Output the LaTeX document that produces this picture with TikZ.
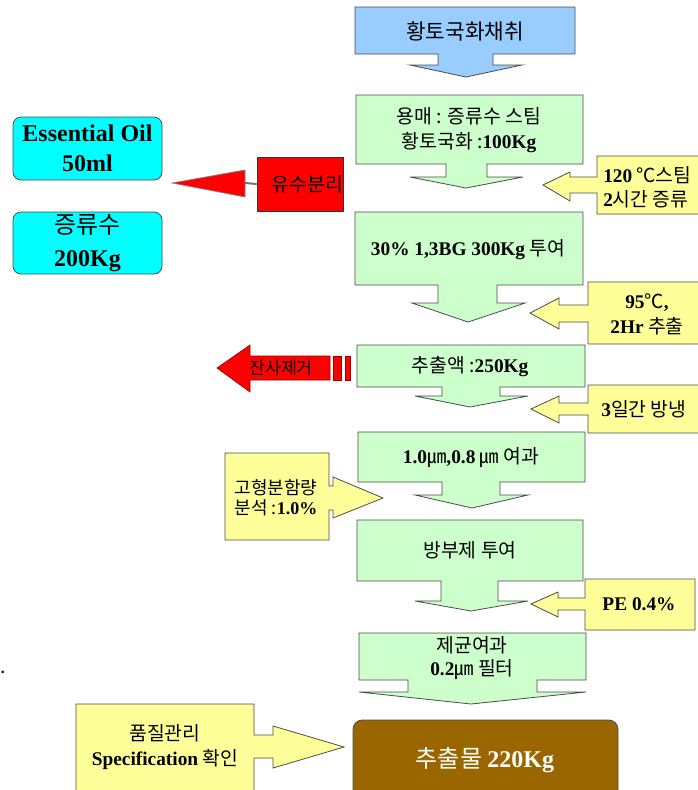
\documentclass[tikz,border=0pt]{standalone}
\usepackage{fontspec}
\setmainfont{Liberation Serif}
\newfontfamily\kr{Noto Sans CJK KR}
\newcommand\num[1]{{\normalfont\bfseries #1}}
\definecolor{boxblue}{RGB}{153,204,255}
\definecolor{boxgreen}{RGB}{204,255,204}
\definecolor{boxyellow}{RGB}{255,255,153}
\definecolor{boxcyan}{RGB}{0,255,255}
\definecolor{boxbrown}{RGB}{153,102,0}
\tikzset{
  flow/.style={draw=black!70, line width=0.6pt},
  bluebox/.style={flow, fill=boxblue},
  greenbox/.style={flow, fill=boxgreen},
  yellowbox/.style={flow, fill=boxyellow},
  redshape/.style={draw=red!60!black, line width=0.5pt, fill=red},
  cyanbox/.style={flow, fill=boxcyan, rounded corners=6pt, inner sep=0pt},
  txt/.style={inner sep=0pt, align=center, text=black, font=\kr\fontsize{14.5}{18.75}\selectfont},
  smalltxt/.style={txt, font=\kr\fontsize{13.5}{15}\selectfont},
}

\begin{document}
\begin{tikzpicture}[x=0.75pt,y=0.75pt,yscale=-1,xscale=1]
\useasboundingbox (0,0) rectangle (698,790);
\clip (0,0) rectangle (698,790);

%Shape: Down Arrow Callout [harvest]
\draw [bluebox] (355,7) -- (575,7) -- (575,54) -- (493,54) -- (493,65) -- (522,65) -- (466,77) -- (410,65) -- (438,65) -- (438,54) -- (355,54) -- cycle ;
%Shape: Down Arrow Callout [steam]
\draw [greenbox] (356,95) -- (583,95) -- (583,164) -- (487,164) -- (487,177) -- (523,177) -- (466,188) -- (410,177) -- (446,177) -- (446,164) -- (356,164) -- cycle ;
%Shape: Down Arrow Callout [bg]
\draw [greenbox] (355,212) -- (583,212) -- (583,285) -- (497,285) -- (497,303) -- (525,303) -- (468,322) -- (412,303) -- (438,303) -- (438,285) -- (355,285) -- cycle ;
%Shape: Down Arrow Callout [extract]
\draw [greenbox] (357,345) -- (585,345) -- (585,387) -- (500,387) -- (500,396) -- (528,396) -- (470,407) -- (415,396) -- (442,396) -- (442,387) -- (357,387) -- cycle ;
%Shape: Down Arrow Callout [filter]
\draw [greenbox] (358,432) -- (585,432) -- (585,482) -- (500,482) -- (500,495) -- (528,495) -- (472,508) -- (415,495) -- (442,495) -- (442,482) -- (358,482) -- cycle ;
%Shape: Down Arrow Callout [preserv]
\draw [greenbox] (357,520) -- (583,520) -- (583,581) -- (498,581) -- (498,601) -- (528,601) -- (471,611) -- (415,601) -- (441,601) -- (441,581) -- (357,581) -- cycle ;
%Shape: Down Arrow Callout [sterile]
\draw [greenbox] (359,633) -- (586,633) -- (586,680) -- (537,680) -- (537,692) -- (586,692) -- (471,704) -- (359,692) -- (408,692) -- (408,680) -- (359,680) -- cycle ;
%Shape: Rounded Rect [product]
\draw [flow, fill=boxbrown, rounded corners=7pt] (353,720) rectangle (618,802) ;

%Shape: Left Arrow Callout [temp1]
\draw [yellowbox] (597,156) -- (712,156) -- (712,214) -- (597,214) -- (597,193) -- (570,193) -- (570,201) -- (543,185) -- (570,172) -- (570,177) -- (597,177) -- cycle ;
%Shape: Left Arrow Callout [temp2]
\draw [yellowbox] (588,282) -- (710,282) -- (710,344) -- (588,344) -- (588,322) -- (559,322) -- (559,329) -- (530,313) -- (559,298) -- (559,305) -- (588,305) -- cycle ;
%Shape: Left Arrow Callout [cool]
\draw [yellowbox] (588,385) -- (710,385) -- (710,433) -- (588,433) -- (588,415) -- (559,415) -- (559,423) -- (531,409) -- (559,396) -- (559,403) -- (588,403) -- cycle ;
%Shape: Left Arrow Callout [pe]
\draw [yellowbox] (585,579) -- (695,579) -- (695,630) -- (585,630) -- (585,610) -- (558,610) -- (558,617) -- (531,604) -- (558,592) -- (558,598) -- (585,598) -- cycle ;
%Shape: Right Arrow Callout [solid]
\draw [yellowbox] (225,453) -- (329,453) -- (329,486) -- (333,486) -- (333,477) -- (383,498) -- (333,518) -- (333,510) -- (329,510) -- (329,540) -- (225,540) -- cycle ;
%Shape: Right Arrow Callout [qc]
\draw [yellowbox] (76,704) -- (254,704) -- (254,735) -- (273,735) -- (273,726) -- (344,747) -- (273,768) -- (273,758) -- (254,758) -- (254,802) -- (76,802) -- cycle ;

%Shape: Striped Left Arrow [residue]
\draw [redshape] (217,368) -- (250,345) -- (250,356) -- (330,356) -- (330,380) -- (250,380) -- (250,392) -- cycle ;
\draw [redshape] (333,356) rectangle (341,380) ;
\draw [redshape] (345,356) rectangle (350,380) ;

%Shape: Rect [separation] and triangle
\draw (300,184) node (sep) [redshape, draw=black!80, minimum width=64.5pt, minimum height=40.5pt] {} ;
\coordinate (tri) at (245,183) ;
\draw [redshape, draw=black!50] (172,183) -- (245,170) -- (245,197) -- cycle ;
\draw [black!55, line width=1.5pt] (sep.west) -- (tri) ;

% Cyan Boxes
\draw (87.5,148.5) node (oil) [cyanbox, minimum width=111.75pt, minimum height=47.25pt, font=\fontsize{18}{22.5}\selectfont, align=center] {\num{Essential Oil}\\\num{50ml}} ;
\draw (87.5,243) node (water) [cyanbox, minimum width=111.75pt, minimum height=46.5pt, font=\kr\fontsize{18}{24.75}\selectfont, align=center] {증류수\\\num{200Kg}} ;

% Text Node
\draw (465,31) node (harvest) [txt, font=\kr\fontsize{16}{18}\selectfont] {황토국화채취} ;
% Text Node
\draw (469,130.5) node (steam) [txt] {용매 : 증류수 스팀\\황토국화 :\num{100Kg}} ;
% Text Node
\draw (468,250) node (bg) [txt] {\num{30\% 1,3BG 300Kg} 투여} ;
% Text Node
\draw (470,367) node (extract) [txt] {추출액 :\num{250Kg}} ;
% Text Node
\draw (471,458) node (filter) [txt] {\num{1.0}㎛\num{,0.8} ㎛ 여과} ;
% Text Node
\draw (470,550) node (preserv) [txt] {방부제 투여} ;
% Text Node
\draw (472,658.5) node (sterile) [txt, font=\kr\fontsize{14.5}{17.25}\selectfont] {제균여과\\\num{0.2}㎛ 필터} ;
% Text Node
\draw (485,760) node (product) [txt, text=white, font=\kr\fontsize{18}{20}\selectfont] {추출물 \num{220Kg}} ;
% Text Node
\draw (603,187) node (temp1) [txt, anchor=west, align=left, font=\kr\fontsize{14.5}{18}\selectfont] {\num{120} ℃스팀\\\num{2}시간 증류} ;
% Text Node
\draw (647,314.5) node (temp2) [txt] {\num{95}℃\num{,}\\\num{2Hr} 추출} ;
% Text Node
\draw (644,409) node (cool) [txt] {\num{3}일간 방냉} ;
% Text Node
\draw (639,604) node (pe) [txt] {\num{PE 0.4\%}} ;
% Text Node
\draw (276,498) node (solid) [smalltxt] {고형분함량\\분석 :\num{1.0\%}} ;
% Text Node
\draw (165,747.5) node (qc) [txt] {품질관리\\\num{Specification} 확인} ;
% Text Node
\draw (sep.east) node (septxt) [txt, anchor=east] {유수분리} ;
% Text Node
\draw (281,368) node (residue) [txt, font=\kr\fontsize{13}{15}\selectfont] {잔사제거} ;
% Text Node
\draw (3,672) node (dot) [txt] {.} ;

\end{tikzpicture}
\end{document}
